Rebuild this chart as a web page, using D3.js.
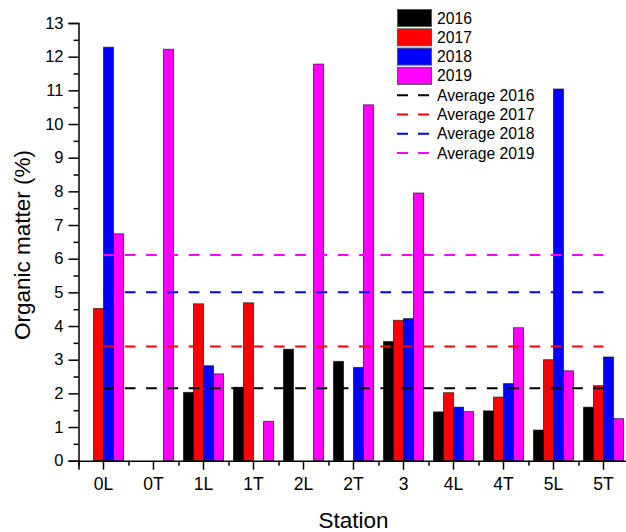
<!DOCTYPE html>
<meta charset="utf-8">
<script src="https://d3js.org/d3.v7.min.js"></script>
<style>
  body { margin: 0; background: #fff; }
  text { font-family: "Liberation Sans", Arial, sans-serif; fill: #000; }
</style>
<div id="my_dataviz"></div>
<script>

// data
var stations = ["0L", "0T", "1L", "1T", "2L", "2T", "3", "4L", "4T", "5L", "5T"];
var years = ["2016", "2017", "2018", "2019"];
var om2016 = [null, null, 2.03, 2.18, 3.31, 2.95, 3.54, 1.45, 1.48, 0.91, 1.59];
var om2017 = [4.52, null, 4.66, 4.69, null, null, 4.17, 2.02, 1.89, 3.00, 2.23];
var om2018 = [12.28, null, 2.82, null, null, 2.77, 4.22, 1.59, 2.29, 11.04, 3.08];
var om2019 = [6.74, 12.22, 2.58, 1.17, 11.78, 10.57, 7.95, 1.46, 3.95, 2.67, 1.25];
var averages = [2.15, 3.39, 5.00, 6.11];
var yTicks = d3.range(0, 14);

var colors = ["#000000", "#ff0000", "#0000ff", "#ff00ff"];
var series = [om2016, om2017, om2018, om2019];

// set the dimensions and margins of the graph
var margin = {top: 23, right: 0, bottom: 70, left: 78.5},
    width = 626 - margin.left - margin.right,
    height = 532 - margin.top - margin.bottom;

var svg = d3.select("#my_dataviz")
  .append("svg")
    .attr("width", 626)
    .attr("height", 532)
  .append("g")
    .attr("transform", "translate(" + margin.left + "," + margin.top + ")");

// scales
var x = d3.scaleBand().domain(stations).range([0, 550]).padding(0);
var xSub = d3.scaleBand().domain(years).range([x.bandwidth() * 0.1, x.bandwidth() * 0.9]);
var y = d3.scaleLinear().domain([0, 13]).range([height - 1.3, 0]);

// bars
var bars = [];
series.forEach(function(s, i) {
  s.forEach(function(v, j) {
    if (v != null) bars.push({station: stations[j], year: years[i], value: v, color: colors[i]});
  });
});

svg.append("g").selectAll("rect")
  .data(bars)
  .enter()
  .append("rect")
    .attr("x", function(d) { return x(d.station) + xSub(d.year); })
    .attr("width", xSub.bandwidth())
    .attr("y", function(d) { return y(d.value); })
    .attr("height", function(d) { return y(0) - y(d.value); })
    .attr("fill", function(d) { return d.color; })
    .attr("stroke", "#000")
    .attr("stroke-opacity", 0.6)
    .attr("stroke-width", 1);

// average lines
svg.append("g").selectAll("line")
  .data(averages)
  .enter()
  .append("line")
    .attr("x1", x(stations[0]) + x.bandwidth() / 2)
    .attr("x2", x(stations[stations.length - 1]) + x.bandwidth() / 2)
    .attr("y1", function(d) { return y(d); })
    .attr("y2", function(d) { return y(d); })
    .attr("stroke", function(d, i) { return colors[i]; })
    .attr("stroke-width", 2)
    .attr("stroke-dasharray", "10.7,10.6");

// x axis with minor ticks between stations
var xAxisG = svg.append("g")
  .attr("transform", "translate(0," + y(0) + ")")
  .call(d3.axisBottom(x).tickSizeOuter(0).tickSize(9).tickPadding(8));
xAxisG.selectAll("text").style("font-size", "17.5px");
xAxisG.selectAll("line").attr("stroke-width", 1.5);
xAxisG.select(".domain").attr("stroke-width", 1.5);
xAxisG.selectAll(".minor")
  .data(stations)
  .enter()
  .append("line")
    .attr("class", "minor")
    .attr("x1", function(d) { return x(d) + 0.5; })
    .attr("x2", function(d) { return x(d) + 0.5; })
    .attr("y1", 0)
    .attr("y2", 5)
    .attr("stroke", "#000")
    .attr("stroke-width", 1.5);

// y axis with minor ticks
var yAxisG = svg.append("g")
  .call(d3.axisLeft(y).tickValues(yTicks).tickFormat(d3.format("d")).tickSizeOuter(0).tickSize(10).tickPadding(5));
yAxisG.selectAll("text").style("font-size", "16.5px");
yAxisG.selectAll("line").attr("stroke-width", 1.5);
yAxisG.select(".domain").attr("stroke-width", 1.5);
yAxisG.selectAll(".minor")
  .data(yTicks.slice(0, -1))
  .enter()
  .append("line")
    .attr("class", "minor")
    .attr("x1", -5)
    .attr("x2", 0)
    .attr("y1", function(d) { return y(d + 0.5) + 0.5; })
    .attr("y2", function(d) { return y(d + 0.5) + 0.5; })
    .attr("stroke", "#000")
    .attr("stroke-width", 1.5);

// axis titles
svg.append("text")
  .attr("x", 275)
  .attr("y", 505)
  .attr("text-anchor", "middle")
  .style("font-size", "22.5px")
  .text("Station");

svg.append("text")
  .attr("transform", "translate(" + (30 - margin.left) + "," + (245 - margin.top) + ") rotate(-90)")
  .attr("text-anchor", "middle")
  .style("font-size", "22.5px")
  .text("Organic matter (%)");

// legend
var legend = d3.select("svg").append("g")
  .attr("transform", "translate(397,9)");

var rowH = 19.3;
years.forEach(function(yr, i) {
  legend.append("rect")
    .attr("x", 0.5)
    .attr("y", i * rowH + 0.5)
    .attr("width", 34)
    .attr("height", 17)
    .attr("fill", colors[i])
    .attr("stroke", "#555")
    .attr("stroke-width", 1);
  legend.append("text")
    .attr("x", 40)
    .attr("y", i * rowH + 14.5)
    .style("font-size", "15.7px")
    .text(yr);
});
years.forEach(function(yr, i) {
  var cy = (i + 4) * rowH + 9;
  legend.append("line")
    .attr("x1", 0)
    .attr("x2", 33)
    .attr("y1", cy)
    .attr("y2", cy)
    .attr("stroke", colors[i])
    .attr("stroke-width", 2)
    .attr("stroke-dasharray", "11,10");
  legend.append("text")
    .attr("x", 40)
    .attr("y", cy + 5.5)
    .style("font-size", "15.7px")
    .text("Average " + yr);
});

</script>
